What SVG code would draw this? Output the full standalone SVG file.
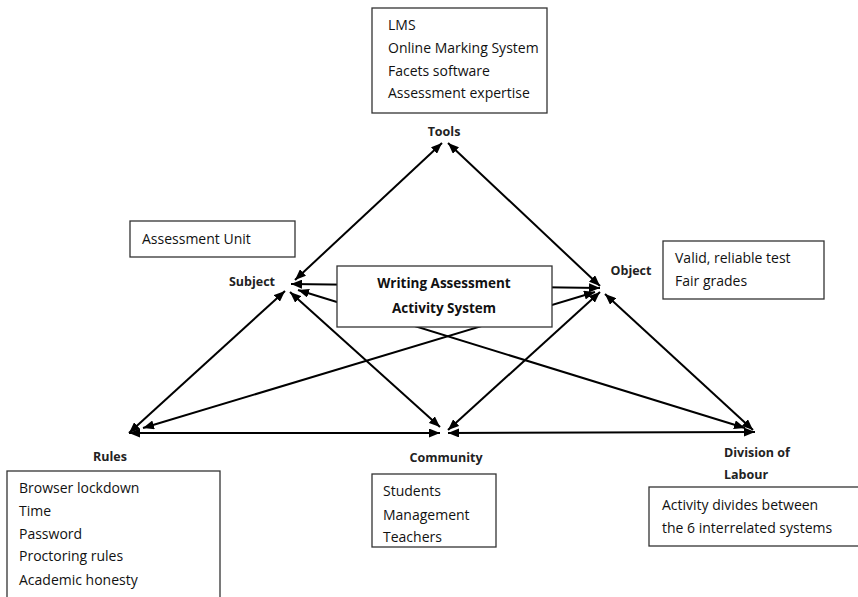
<svg xmlns="http://www.w3.org/2000/svg" width="858" height="597" viewBox="0 0 858 597">
<defs>
<marker id="ah" markerUnits="userSpaceOnUse" markerWidth="11" markerHeight="9" refX="11" refY="4.5" orient="auto-start-reverse">
<path d="M0,0 L11,4.5 L0,9 z" fill="#000"/>
</marker>
<style>
.box{fill:#fff;stroke:#333;stroke-width:1.3}
.t{font-family:"Open Sans","Liberation Sans",sans-serif;font-size:14px;fill:#111}
.lb{font-family:"Open Sans","Liberation Sans",sans-serif;font-size:12.5px;font-weight:bold;fill:#222}
.ct{font-family:"Open Sans","Liberation Sans",sans-serif;font-size:13.5px;font-weight:bold;fill:#111;text-anchor:middle}
.c{stroke:#000;stroke-width:2;fill:none;marker-start:url(#ah);marker-end:url(#ah)}
</style>
</defs>
<rect width="858" height="597" fill="#fff"/>
<g id="connectors">
<line class="c" x1="442" y1="143" x2="295" y2="280"/>
<line class="c" x1="448" y1="143" x2="600" y2="286"/>
<line class="c" x1="291" y1="284" x2="600" y2="288"/>
<line class="c" x1="285" y1="291" x2="129" y2="433"/>
<line class="c" x1="290" y1="292" x2="440" y2="427"/>
<line class="c" x1="298" y1="290" x2="745" y2="428"/>
<line class="c" x1="595" y1="292" x2="143" y2="428"/>
<line class="c" x1="600" y1="292" x2="448" y2="430"/>
<line class="c" x1="605" y1="294" x2="753" y2="430"/>
<line class="c" x1="129" y1="433" x2="440" y2="433"/>
<line class="c" x1="448" y1="433" x2="755" y2="432"/>
</g>
<g id="center">
<rect class="box" x="337" y="266" width="215" height="61"/>
<text class="ct" x="444" y="288">Writing Assessment</text>
<text class="ct" x="444" y="313">Activity System</text>
</g>
<g id="tools">
<rect class="box" x="372" y="8" width="175" height="105"/>
<text class="t" x="388" y="30">LMS</text>
<text class="t" x="388" y="53">Online Marking System</text>
<text class="t" x="388" y="76">Facets software</text>
<text class="t" x="388" y="98">Assessment expertise</text>
<text class="lb" x="444" y="136" text-anchor="middle">Tools</text>
</g>
<g id="subject">
<rect class="box" x="130" y="221" width="165" height="36"/>
<text class="t" x="142" y="244">Assessment Unit</text>
<text class="lb" x="252" y="286" text-anchor="middle">Subject</text>
</g>
<g id="object">
<text class="lb" x="631" y="275" text-anchor="middle">Object</text>
<rect class="box" x="663" y="241" width="161" height="58"/>
<text class="t" x="675" y="263">Valid, reliable test</text>
<text class="t" x="675" y="286">Fair grades</text>
</g>
<g id="rules">
<text class="lb" x="110" y="461" text-anchor="middle">Rules</text>
<rect class="box" x="7" y="471" width="213" height="140"/>
<text class="t" x="19" y="493">Browser lockdown</text>
<text class="t" x="19" y="516">Time</text>
<text class="t" x="19" y="539">Password</text>
<text class="t" x="19" y="561">Proctoring rules</text>
<text class="t" x="19" y="585">Academic honesty</text>
</g>
<g id="community">
<text class="lb" x="446" y="462" text-anchor="middle">Community</text>
<rect class="box" x="372" y="474" width="124" height="73"/>
<text class="t" x="383" y="496">Students</text>
<text class="t" x="383" y="520">Management</text>
<text class="t" x="383" y="542">Teachers</text>
</g>
<g id="division">
<text class="lb" x="724" y="457">Division of</text>
<text class="lb" x="724" y="479">Labour</text>
<rect class="box" x="649" y="487" width="220" height="59"/>
<text class="t" x="662" y="510">Activity divides between</text>
<text class="t" x="662" y="533">the 6 interrelated systems</text>
</g>
</svg>
